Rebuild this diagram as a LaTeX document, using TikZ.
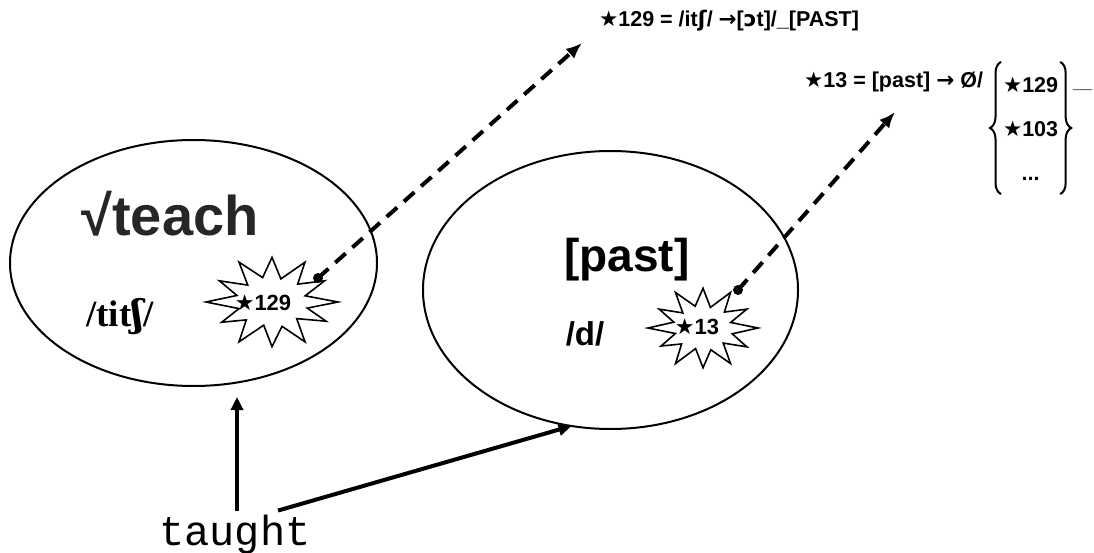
\documentclass[tikz,border=0pt]{standalone}
\usepackage{fontspec}
\setmainfont{Liberation Sans}
\newfontfamily\djv{DejaVu Sans}
\newfontfamily\djvserif{DejaVu Serif}
\newfontfamily\lserif{Liberation Serif}
\newfontfamily\lmono{Liberation Mono}
\usetikzlibrary{shapes.geometric,arrows.meta,decorations.pathreplacing}
\newcommand\bstar{{\djv\bfseries ★}}
\newcommand\esh{{\djv\bfseries ʃ}}
\newcommand\serifesh{{\djvserif\bfseries ʃ}}
\newcommand\opo{{\djv\bfseries ɔ}}
\newcommand\rarr{{\djv →}}
\newcommand\fs[1]{\fontsize{#1}{#1}\selectfont}
\begin{document}
\begin{tikzpicture}[x=1pt,y=-1pt,
  every node/.style={inner sep=0pt, outer sep=0pt},
  morph/.style={draw, ellipse, line width=2pt},
  burst/.style={draw, fill=white, line width=1.6pt, line join=miter},
  bursttext/.style={font=\bfseries\fs{22}},
  rulelink/.style={line width=4pt, dash pattern=on 14pt off 9pt, -{Latex[length=16pt,width=13pt]}},
  spellout/.style={line width=4pt, -{Triangle[length=13pt,width=12pt]}},
  ruletext/.style={font=\bfseries\fs{21.5}},
  ctxbrace/.style={decorate, decoration={brace, amplitude=11pt}, line width=2pt}
]
\useasboundingbox (0,0) rectangle (1094,553);

% morpheme ellipses
\node[morph, minimum width=367pt, minimum height=246pt] (rootE) at (193.5,263) {};
\node[morph, minimum width=375pt, minimum height=278pt] (pastE) at (610.5,290) {};

% contents
\node[font=\bfseries\fs{56}, text=black!85, anchor=base] (root) at (170,236) {√teach};
\node[font=\lserif\bfseries\fs{37}, anchor=base] (rootph) at (120,326) {/tit\serifesh/};
\node[font=\bfseries\fs{46}, anchor=base] (past) at (627,272) {[past]};
\node[font=\bfseries\fs{33}, anchor=base] (pastph) at (585,345) {/d/};

% bursts
\begin{scope}[shift={(272,302)}, xscale=66, yscale=46]
\draw[burst] (0:1) -- (14:.55) -- (27:.92) -- (44:.52) -- (60:1) -- (74:.55) -- (90:.97) -- (104:.52) -- (120:1) -- (135:.55) -- (150:.88) -- (164:.52) -- (180:1) -- (195:.55) -- (210:.92) -- (225:.52) -- (240:1) -- (255:.55) -- (270:.97) -- (285:.52) -- (300:1) -- (315:.55) -- (330:.92) -- (345:.52) -- cycle;
\end{scope}
\node[bursttext] (b1) at (263,303) {\bstar129};
\begin{scope}[shift={(703,328)}, xscale=55, yscale=41]
\draw[burst] (0:1) -- (15:.55) -- (30:.92) -- (45:.52) -- (60:1) -- (75:.55) -- (90:.97) -- (105:.52) -- (120:1) -- (135:.55) -- (150:.88) -- (165:.52) -- (180:1) -- (195:.55) -- (210:.92) -- (225:.52) -- (240:1) -- (255:.55) -- (270:.97) -- (285:.52) -- (300:1) -- (315:.55) -- (330:.92) -- (345:.52) -- cycle;
\end{scope}
\node[bursttext] (b2) at (697,327) {\bstar13};

% rules
\node[ruletext, anchor=base] (rule1) at (729,27) {\bstar129 = /it\esh/ \rarr[\opo t]/\_[PAST]};
\node[ruletext, anchor=base east] (rule2) at (983,88) {\bstar13 = [past] \rarr\ Ø/};
\node[ruletext, anchor=west, minimum height=130pt] (ctx) at (1003,128)
  {\def\arraystretch{2.05}\begin{tabular}{@{}c@{}}\bstar129\\ \bstar103\\ ...\end{tabular}};
\draw[ctxbrace] ([xshift=-2pt]ctx.south west) -- ([xshift=-2pt]ctx.north west);
\draw[ctxbrace] ([xshift=2pt]ctx.north east) -- ([xshift=2pt]ctx.south east);
\node[font=\bfseries\fs{17}, anchor=base west] (gap) at (1073,89) {\_\_};

% links
\coordinate (d1) at (318,278);
\coordinate (d2) at (738,290);
\coordinate (r1end) at (582,43);
\coordinate (r2end) at (895,112);
\draw[rulelink] (d1) -- (r1end);
\draw[rulelink] (d2) -- (r2end);
\fill (d1) circle[radius=5pt];
\fill (d2) circle[radius=5pt];

% spell-out
\node[font=\lmono\fs{42}, anchor=base] (taught) at (235,545) {taught};
\coordinate (rootEnd) at (237,397);
\draw[spellout] ([shift={(2,-4)}]taught.north) -- (rootEnd);
\draw[spellout] ([shift={(43,-4)}]taught.north) -- (pastE.254);
\end{tikzpicture}
\end{document}
